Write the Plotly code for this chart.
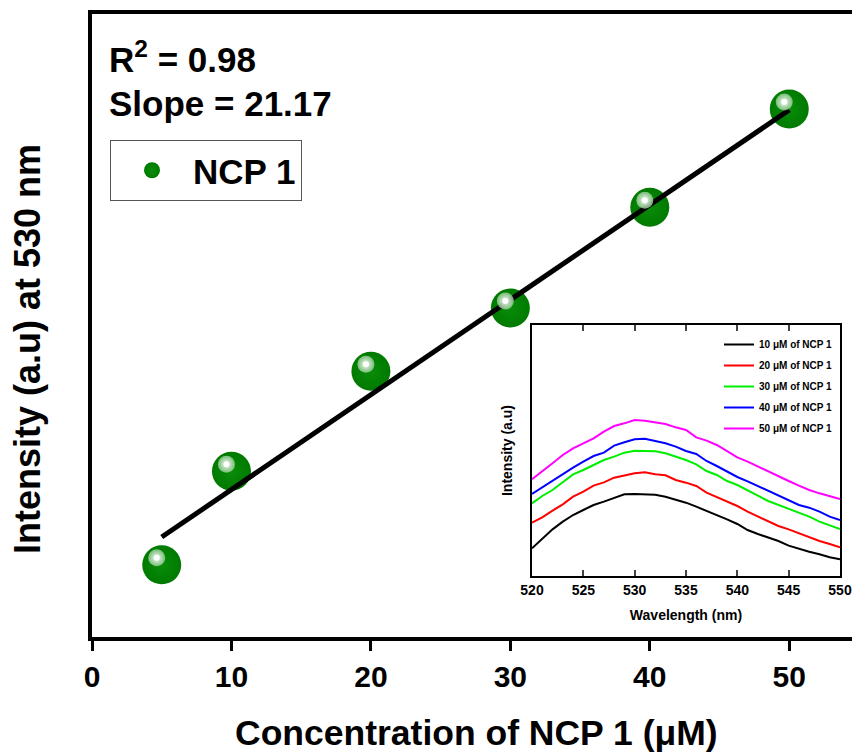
import plotly.graph_objects as go

# ---------------- data ----------------
conc = [5, 10, 20, 30, 40, 50]
intensity = [161, 370, 593, 734, 959, 1178]
fit_x = [5, 50]
fit_y = [223, 1176]
r2_text = "R<sup>2</sup> = 0.98"
slope_text = "Slope = 21.17"
x_ticks = [0, 10, 20, 30, 40, 50]

wavelength = list(range(520, 551))
spec_10 = [83, 113, 140, 163, 183, 198, 213, 223, 233, 245, 246, 246, 244, 238, 230, 220,
           208, 196, 183, 170, 156, 138, 126, 116, 105, 91, 81, 73, 65, 56, 50]
spec_20 = [160, 176, 196, 215, 238, 253, 271, 281, 295, 302, 308, 311, 305, 302, 288, 280,
           270, 250, 236, 223, 210, 193, 178, 163, 150, 140, 128, 115, 105, 96, 86]
spec_30 = [218, 240, 258, 281, 305, 318, 333, 348, 358, 370, 376, 376, 374, 368, 358, 348,
           335, 315, 303, 285, 273, 256, 241, 225, 213, 200, 188, 178, 163, 151, 141]
spec_40 = [246, 266, 286, 305, 325, 343, 360, 370, 391, 401, 410, 412, 406, 398, 388, 375,
           366, 345, 330, 313, 297, 284, 270, 256, 240, 228, 213, 205, 193, 178, 168]
spec_50 = [290, 313, 338, 363, 383, 398, 413, 433, 450, 458, 468, 466, 462, 456, 446, 438,
           416, 406, 393, 375, 356, 343, 328, 313, 298, 285, 271, 258, 248, 240, 231]
spectra = [spec_10, spec_20, spec_30, spec_40, spec_50]
spec_names = ["10 \u03bcM of NCP 1", "20 \u03bcM of NCP 1", "30 \u03bcM of NCP 1",
              "40 \u03bcM of NCP 1", "50 \u03bcM of NCP 1"]
spec_colors = ["#000000", "#ff0000", "#00ee00", "#0000ff", "#ff00ff"]
inset_ticks = [520, 525, 530, 535, 540, 545, 550]

# ---------------- layout constants ----------------
W, H = 852, 753
ML, MR, MT, MB = 92, 0, 14, 116
XR = [0, 54.5]
YR = [0, 1390]
FONT = "Liberation Sans"
plot_w = W - ML - MR
plot_h = H - MT - MB


def px_x(p):
    return (p - ML) / plot_w


def px_y(p):
    return (H - MB - p) / plot_h


# highlight offset in pixels (up-left)
dx_px, dy_px = -5, -7
ux = (XR[1] - XR[0]) / plot_w
uy = (YR[1] - YR[0]) / plot_h
XR3 = [XR[0] - dx_px * ux, XR[1] - dx_px * ux]
YR3 = [YR[0] + dy_px * uy, YR[1] + dy_px * uy]

fig = go.Figure()

# main spheres
fig.add_trace(go.Scatter(
    x=conc, y=intensity, mode="markers", name="NCP 1",
    marker=dict(size=39, color="#007a00", line=dict(width=0),
                gradient=dict(type="radial", color="#0a8c0a")),
    legend="legend", xaxis="x", yaxis="y"))

# highlights (drawn on an overlaid axis shifted by a few pixels)
fig.add_trace(go.Scatter(
    x=conc, y=intensity, mode="markers", showlegend=False, hoverinfo="skip",
    marker=dict(size=17, color="rgba(150,205,150,0.8)", line=dict(width=0),
                gradient=dict(type="radial", color="#ffffff")),
    xaxis="x3", yaxis="y3"))
fig.add_trace(go.Scatter(
    x=conc, y=intensity, mode="markers", showlegend=False, hoverinfo="skip",
    marker=dict(size=6, color="#ffffff", line=dict(width=0)),
    xaxis="x3", yaxis="y3"))

# linear fit
fig.add_trace(go.Scatter(
    x=fit_x, y=fit_y, mode="lines", showlegend=False,
    line=dict(color="black", width=5), xaxis="x", yaxis="y"))

# inset spectra
for s, n, c in zip(spectra, spec_names, spec_colors):
    fig.add_trace(go.Scatter(
        x=wavelength, y=s, mode="lines", name=n, legendgroup=n,
        line=dict(color=c, width=2), legend="legend2",
        xaxis="x2", yaxis="y2"))

inset_x = [px_x(532), px_x(840)]
inset_y = [px_y(576), px_y(325)]

fig.update_layout(
    width=W, height=H,
    margin=dict(l=ML, r=MR, t=MT, b=MB, autoexpand=False),
    paper_bgcolor="white", plot_bgcolor="white",
    font=dict(family=FONT, color="black"),
    xaxis=dict(range=XR, domain=[0, 1], showgrid=False, zeroline=False,
               showline=True, linecolor="black", linewidth=4, mirror=True,
               ticks="outside", ticklen=10, tickwidth=3, tickcolor="black",
               tickvals=x_ticks, automargin=False,
               tickfont=dict(size=30, family=FONT, weight="bold")),
    yaxis=dict(range=YR, domain=[0, 1], showgrid=False, zeroline=False,
               showline=True, linecolor="black", linewidth=4, mirror=False,
               ticks="", showticklabels=False, automargin=False),
    xaxis3=dict(range=XR3, overlaying="x", visible=False),
    yaxis3=dict(range=YR3, overlaying="y", visible=False),
    xaxis2=dict(domain=inset_x, anchor="y2", range=[520, 550], showgrid=False,
                zeroline=False, showline=True, linecolor="black", linewidth=1.5,
                mirror="all", ticks="inside", ticklen=6, tickwidth=1.5,
                tickvals=inset_ticks, automargin=False, ticklabeloverflow="allow",
                tickfont=dict(size=14, family=FONT, weight="bold"),
                title=dict(text="Wavelength (nm)",
                           font=dict(size=14, family=FONT, weight="bold"),
                           standoff=14)),
    yaxis2=dict(domain=inset_y, anchor="x2", range=[0, 753], showgrid=False,
                zeroline=False, showline=True, linecolor="black", linewidth=1.5,
                mirror="all", ticks="", showticklabels=False, automargin=False,
                title=dict(text="Intensity (a.u)",
                           font=dict(size=14, family=FONT, weight="bold"),
                           standoff=14)),
    legend=dict(x=px_x(110), y=px_y(140),
                xanchor="left", yanchor="top",
                bgcolor="white", bordercolor="#555555", borderwidth=1,
                font=dict(size=35, family=FONT, weight="bold"),
                itemsizing="trace", itemwidth=72, entrywidth=120),
    legend2=dict(x=px_x(838), y=px_y(330), xanchor="right", yanchor="top",
                 bgcolor="rgba(0,0,0,0)", borderwidth=0,
                 font=dict(size=10, family=FONT, weight="bold"),
                 tracegroupgap=2, itemwidth=30),
    annotations=[
        dict(text=r2_text, xref="paper", yref="paper",
             x=px_x(107), y=px_y(57),
             xanchor="left", yanchor="middle", showarrow=False,
             font=dict(size=35, family=FONT, weight="bold")),
        dict(text=slope_text, xref="paper", yref="paper",
             x=px_x(107), y=px_y(103),
             xanchor="left", yanchor="middle", showarrow=False,
             font=dict(size=35, family=FONT, weight="bold")),
        dict(text="Concentration of NCP 1 (\u03bcM)", xref="paper", yref="paper",
             x=px_x(476), y=px_y(733), xanchor="center", yanchor="middle",
             showarrow=False, font=dict(size=35.5, family=FONT, weight="bold")),
        dict(text="Intensity (a.u) at 530 nm", xref="paper", yref="paper",
             x=px_x(27), y=px_y(349), xanchor="center", yanchor="middle",
             textangle=-90, showarrow=False,
             font=dict(size=36, family=FONT, weight="bold")),
    ],
)

fig.write_html("out.html",
               config={"displayModeBar": False},
               post_script="document.body.style.margin='0px';"
                           "document.body.style.overflow='hidden';")
